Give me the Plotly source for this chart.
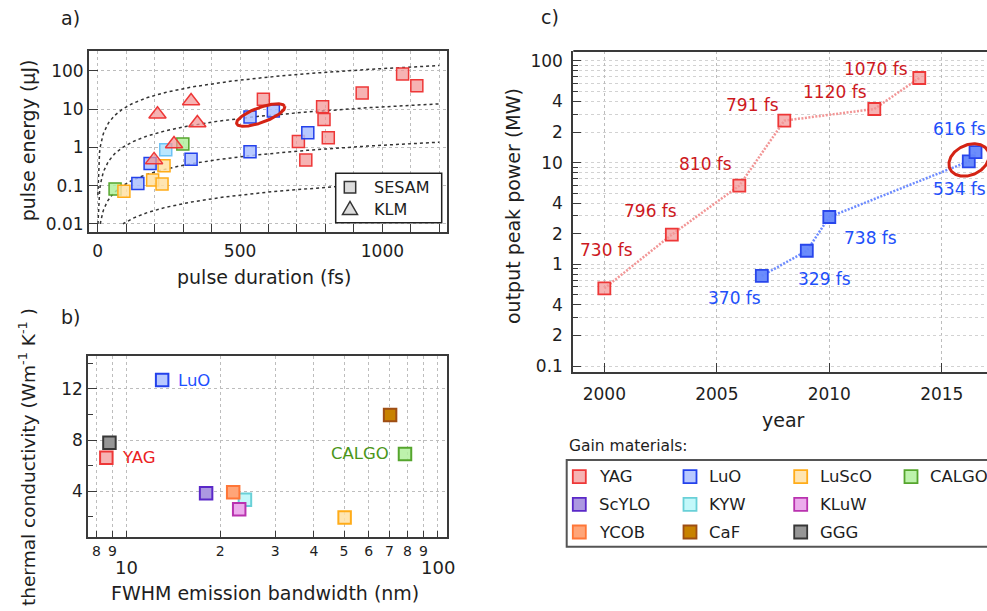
import numpy as np
import plotly.graph_objects as go

W, H = 987, 611
FONT = "DejaVu Sans"
INK = "#1e1e1e"
FRAME = "#3a3a3a"
GRID = "#bdbdbd"
GRID_LIGHT = "#d2d2d2"

# ---------------- a) pulse energy vs. pulse duration ----------------
yag_sesam_fs = [582, 790, 795, 810, 705, 731, 929, 1071, 1121]
yag_sesam_uj = [17.9, 11.5, 5.3, 1.79, 1.41, 0.47, 26, 82, 40.6]
luo_sesam_fs = [535, 617, 535, 738, 328, 184, 141]
luo_sesam_uj = [6.2, 8.9, 0.77, 2.4, 0.49, 0.38, 0.113]
kyw_sesam_fs = [239]
kyw_sesam_uj = [0.87]
calgo_sesam_fs = [299, 61]
calgo_sesam_uj = [1.22, 0.082]
luscO_sesam_fs = [92, 193, 226, 233]
luscO_sesam_uj = [0.071, 0.14, 0.11, 0.33]
yag_klm_fs = [210, 328, 350, 268, 198]
yag_klm_uj = [7.3, 16.2, 4.3, 1.22, 0.47]
iso_peak_power_mw = [100, 10, 1, 0.1]   # dashed guides, sech^2 pulses
a_xticks = list(range(0, 1201, 100))
a_xlabels = ["0" if v == 0 else ("500" if v == 500 else ("1000" if v == 1000 else "")) for v in a_xticks]
a_yticks = [0.01, 0.1, 1, 10, 100]
a_ylabels = ["0.01", "0.1", "1", "10", "100"]

# ---------------- b) thermal conductivity vs. emission bandwidth ----------------
materials = ["YAG", "LuO", "LuScO", "CALGO", "ScYLO", "KYW", "KLuW", "YCOB", "CaF", "GGG"]
bandwidth_nm = [8.6, 13.0, 50.2, 78.5, 18.0, 24.0, 23.0, 22.0, 70.3, 8.8]
conductivity = [6.63, 12.70, 1.95, 6.92, 3.85, 3.33, 2.60, 3.93, 9.97, 7.80]
b_labelled = ["YAG", "LuO", "CALGO"]
b_xticks = [8, 9, 10, 20, 30, 40, 50, 60, 70, 80, 90, 100]
b_xlabels = ["8", "9", " ", "2", "3", "4", "5", "6", "7", "8", "9", " "]
b_xdecades = [10, 100]
b_yticks = [4, 8, 12]
b_yminor = [2, 6, 10, 14]

# ---------------- c) output peak power vs. year ----------------
yag_year = [2000, 2003, 2006, 2008, 2012, 2014]
yag_peak_mw = [0.58, 1.96, 5.94, 25.9, 33.7, 68]
yag_duration = ["730 fs", "796 fs", "810 fs", "791 fs", "1120 fs", "1070 fs"]
luo_year = [2007, 2009, 2010, 2016.2, 2016.5]
luo_peak_mw = [0.77, 1.36, 2.92, 10.3, 12.7]
luo_duration = ["370 fs", "329 fs", "738 fs", "534 fs", "616 fs"]
c_xticks = [2000, 2005, 2010, 2015]
c_yticks = [0.1, 0.2, 0.4, 1, 2, 4, 10, 20, 40, 100]
c_ylabels = ["0.1", "2", "4", "1", "2", "4", "10", "2", "4", "100"]
c_yminor = [k * 10.0 ** e for e in (-1, 0, 1) for k in range(1, 10)] + [100]

# label offsets (px, x right / y up) for the duration labels
yag_label_shift = [(2, 38), (-21, 24), (-34, 22), (-32, 16), (-39, 17), (-43, 9)]
luo_label_shift = [(-27, -22), (18, -28), (41, -21), (-9, -28), (-16, 23)]

STYLE = {
    "YAG": ("rgba(242,150,150,0.72)", "rgb(238,55,55)"),
    "LuO": ("rgba(172,192,255,0.85)", "rgb(35,65,235)"),
    "LuScO": ("rgba(255,224,165,0.85)", "rgb(255,172,25)"),
    "CALGO": ("rgba(178,240,158,0.85)", "rgb(85,165,45)"),
    "ScYLO": ("rgb(172,152,225)", "rgb(90,40,200)"),
    "KYW": ("rgb(195,248,250)", "rgb(105,208,215)"),
    "KLuW": ("rgb(236,172,236)", "rgb(185,50,175)"),
    "YCOB": ("rgb(255,165,120)", "rgb(255,118,55)"),
    "CaF": ("rgb(200,130,0)", "rgb(158,78,20)"),
    "GGG": ("rgb(150,150,150)", "rgb(55,55,55)"),
}
LABEL_COLOR = {"YAG": "rgb(235,30,35)", "LuO": "rgb(30,80,255)", "CALGO": "rgb(75,150,25)"}
C_RED_TEXT = "rgb(205,25,30)"
C_BLUE_TEXT = "rgb(30,80,250)"

# plot-area boxes in pixels (left, right), (top, bottom)
A_X, A_Y = (89, 447), (51, 232)
B_X, B_Y = (88.3, 446.7), (356, 536.7)
C_X, C_Y = (573.3, 987), (51, 372.3)
A_XR, A_YR = (-30.6, 1227), (-2.21, 2.514)
B_XR, B_YR = (0.8765, 2.029), (0.45, 14.58)
C_XR, C_YR = (1998.62, 2017.01), (-1.062, 2.098)


def px(x):
    return x / W


def py(y):
    return 1 - y / H


def dom_x(b):
    return [px(b[0]), min(px(b[1]), 1.0)]


def dom_y(b):
    return [py(b[1]), py(b[0])]


fig = go.Figure()


def squares(x, y, mat, xa, ya, size=11, lw=1.5, fill=None, edge=None):
    f, e = STYLE[mat]
    fig.add_trace(go.Scatter(
        x=x, y=y, mode="markers", xaxis=xa, yaxis=ya, showlegend=False,
        marker=dict(symbol="square", size=size, color=fill or f,
                    line=dict(color=edge or e, width=lw)),
        hoverinfo="x+y", name=mat))


def ellipse(cx, cy_log, a_px, b_px, ang_deg, ux, uy):
    t = np.linspace(0, 2 * np.pi, 160)
    ang = np.radians(ang_deg)
    dx = a_px * np.cos(t) * np.cos(ang) - b_px * np.sin(t) * np.sin(ang)
    dy = a_px * np.cos(t) * np.sin(ang) + b_px * np.sin(t) * np.cos(ang)
    return cx + dx * ux, 10 ** (cy_log + dy * uy)


# ---- panel a ----
for p in iso_peak_power_mw:
    tau_min = 0.01 * 0.88 / (p * 1e-3)
    tau = np.linspace(max(tau_min, 0.5), 1200, 400)
    fig.add_trace(go.Scatter(
        x=tau, y=p * tau * 1e-3 / 0.88, mode="lines", xaxis="x", yaxis="y",
        showlegend=False, hoverinfo="skip",
        line=dict(color="#333333", width=1.5, dash="3px,3px")))

squares(yag_sesam_fs, yag_sesam_uj, "YAG", "x", "y", size=12)
squares(luo_sesam_fs, luo_sesam_uj, "LuO", "x", "y", size=12)
squares(kyw_sesam_fs, kyw_sesam_uj, "KYW", "x", "y", size=12,
        fill="rgba(180,228,255,0.9)", edge="rgb(110,195,245)")
squares(calgo_sesam_fs, calgo_sesam_uj, "CALGO", "x", "y", size=12)
squares(luscO_sesam_fs, luscO_sesam_uj, "LuScO", "x", "y", size=12)
fig.add_trace(go.Scatter(
    x=yag_klm_fs, y=yag_klm_uj, mode="markers", xaxis="x", yaxis="y", showlegend=False,
    marker=dict(symbol="triangle-up", size=15, color=STYLE["YAG"][0],
                line=dict(color=STYLE["YAG"][1], width=1.5)), name="YAG KLM"))

a_ux = (A_XR[1] - A_XR[0]) / (A_X[1] - A_X[0])
a_uy = (A_YR[1] - A_YR[0]) / (A_Y[1] - A_Y[0])
ex, ey = ellipse(572.5, 0.843, 25.5, 7.5, 20, a_ux, a_uy)
fig.add_trace(go.Scatter(x=ex, y=ey, mode="lines", xaxis="x", yaxis="y", showlegend=False,
                         hoverinfo="skip", line=dict(color="rgb(212,35,20)", width=3)))

# ---- panel b ----
for m, bw, k in zip(materials, bandwidth_nm, conductivity):
    squares([bw], [k], m, "x2", "y2", size=12.5, lw=2)

# ---- panel c ----
fig.add_trace(go.Scatter(x=yag_year, y=yag_peak_mw, mode="lines", xaxis="x3", yaxis="y3",
                         showlegend=False, hoverinfo="skip",
                         line=dict(color="rgb(242,150,150)", width=2.5, dash="2px,1.5px")))
fig.add_trace(go.Scatter(x=luo_year, y=luo_peak_mw, mode="lines", xaxis="x3", yaxis="y3",
                         showlegend=False, hoverinfo="skip",
                         line=dict(color="rgb(110,140,255)", width=2.5, dash="2px,1.5px")))
squares(yag_year, yag_peak_mw, "YAG", "x3", "y3", size=12, lw=1.8)
squares(luo_year, luo_peak_mw, "LuO", "x3", "y3", size=12, lw=1.8,
        fill="rgba(100,135,252,0.95)", edge="rgb(40,70,235)")

c_ux = (C_XR[1] - C_XR[0]) / (C_X[1] - C_X[0])
c_uy = (C_YR[1] - C_YR[0]) / (C_Y[1] - C_Y[0])
ex, ey = ellipse(2016.21, 1.026, 21, 15, 25, c_ux, c_uy)
fig.add_trace(go.Scatter(x=ex, y=ey, mode="lines", xaxis="x3", yaxis="y3", showlegend=False,
                         hoverinfo="skip", line=dict(color="rgb(212,35,20)", width=3)))

# ---- annotations ----
ann = []


def text(x, y, s, size=17, color=INK, xanchor="center", yanchor="middle", angle=0,
         xref="paper", yref="paper", xshift=0, yshift=0):
    ann.append(dict(x=x, y=y, text=s, showarrow=False, xref=xref, yref=yref,
                    xanchor=xanchor, yanchor=yanchor, textangle=angle,
                    xshift=xshift, yshift=yshift,
                    font=dict(family=FONT, size=size, color=color)))


text(px(70), py(18), "a)", size=19)
text(px(70), py(317), "b)", size=19)
text(px(550), py(17), "c)", size=19)

text(px(264), py(276.7), "pulse duration (fs)", size=19)
text(px(28.3), py(140), "pulse energy (μJ)", size=19, angle=-90)
text(px(265), py(593.3), "FWHM emission bandwidth (nm)", size=19)
text(px(27), py(457), "thermal conductivity (Wm<sup>-1</sup> K<sup>-1</sup> )", size=18.5, angle=-90)
text(px(513), py(206), "output peak power (MW)", size=19, angle=-90)
text(px(783), py(420), "year", size=19)

for d in b_xdecades:
    text(np.log10(d), py(567), str(d), size=18, xref="x2")

for m, bw, k in zip(materials, bandwidth_nm, conductivity):
    if m in b_labelled:
        right = m == "CALGO"
        text(np.log10(bw), k, m, size=16.5, color=LABEL_COLOR[m], xref="x2", yref="y2",
             xanchor="right" if right else "left", xshift=-14 if right else 14)

for yr, pk, lab, (sx, sy) in zip(yag_year, yag_peak_mw, yag_duration, yag_label_shift):
    text(yr, np.log10(pk), lab, size=17, color=C_RED_TEXT, xref="x3", yref="y3", xshift=sx, yshift=sy)
for yr, pk, lab, (sx, sy) in zip(luo_year, luo_peak_mw, luo_duration, luo_label_shift):
    text(yr, np.log10(pk), lab, size=17, color=C_BLUE_TEXT, xref="x3", yref="y3", xshift=sx, yshift=sy)

# panel a key
shapes = []
shapes.append(dict(type="rect", xref="paper", yref="paper", x0=px(335.7), x1=px(441.7),
                   y0=py(222.7), y1=py(173.3), fillcolor="white",
                   line=dict(color="#222222", width=1.5), layer="above"))
shapes.append(dict(type="rect", xref="paper", yref="paper", x0=px(344.3), x1=px(355.7),
                   y0=py(193), y1=py(181.6), fillcolor="#dcdcdc",
                   line=dict(color="#333333", width=1.5), layer="above"))
shapes.append(dict(type="path", xref="paper", yref="paper",
                   path=f"M {px(342.5)} {py(214.5)} L {px(357.5)} {py(214.5)} L {px(350)} {py(201.5)} Z",
                   fillcolor="#dcdcdc", line=dict(color="#333333", width=1.5), layer="above"))
text(px(372.3), py(187.7), "SESAM", size=16, xanchor="left")
text(px(372.3), py(209.7), "KLM", size=16, xanchor="left")

# gain-material key
text(px(567), py(446), "Gain materials:", size=15.5, xanchor="left")
shapes.append(dict(type="rect", xref="paper", yref="paper", x0=px(566.7), x1=px(1000),
                   y0=py(546.7), y1=py(460), fillcolor="rgba(0,0,0,0)",
                   line=dict(color="#555555", width=2), layer="above"))
key_rows = [["YAG", "LuO", "LuScO", "CALGO"], ["ScYLO", "KYW", "KLuW"], ["YCOB", "CaF", "GGG"]]
key_col_x = [579.3, 690, 800.7, 911]
key_row_y = [476.7, 504.3, 532]
for r, row in enumerate(key_rows):
    for c, m in enumerate(row):
        cx, cy = key_col_x[c], key_row_y[r]
        f, e = STYLE[m]
        shapes.append(dict(type="rect", xref="paper", yref="paper",
                           x0=px(cx - 6.5), x1=px(cx + 6.5), y0=py(cy + 6.5), y1=py(cy - 6.5),
                           fillcolor=f, line=dict(color=e, width=1.8), layer="above"))
        text(px(cx + 17.4), py(cy), m, size=16.5, xanchor="left")

# top border of panel c (open on the right)
shapes.append(dict(type="line", xref="x3 domain", yref="y3 domain", x0=0, x1=1, y0=1, y1=1,
                   line=dict(color=FRAME, width=2)))

tickfont = dict(family=FONT, size=17, color=INK)
common = dict(showline=True, linecolor=FRAME, linewidth=2, ticks="inside", tickcolor=FRAME,
              tickwidth=1.3, showgrid=True, gridcolor=GRID, griddash="dot", gridwidth=1,
              zeroline=False, tickfont=tickfont, tickmode="array", automargin=False)

fig.update_layout(
    width=W, height=H, template="none",
    margin=dict(l=0, r=0, t=0, b=0, autoexpand=False),
    paper_bgcolor="white", plot_bgcolor="white",
    font=dict(family=FONT, color=INK),
    showlegend=False,
    xaxis=dict(domain=dom_x(A_X), anchor="y", range=list(A_XR), tickvals=a_xticks,
               ticktext=a_xlabels, ticklen=8, mirror=True, ticklabelstandoff=3, **common),
    yaxis=dict(domain=dom_y(A_Y), anchor="x", type="log", range=list(A_YR), tickvals=a_yticks,
               ticktext=a_ylabels, ticklen=9, mirror=True, **common),
    xaxis2=dict(domain=dom_x(B_X), anchor="y2", type="log", range=list(B_XR), tickvals=b_xticks,
                ticktext=b_xlabels, ticklen=6, mirror=True,
                **{**common, "tickfont": dict(family=FONT, size=14, color=INK)}),
    yaxis2=dict(domain=dom_y(B_Y), anchor="x2", range=list(B_YR), tickvals=b_yticks,
                ticktext=[str(v) for v in b_yticks], ticklen=9, mirror=True,
                minor=dict(tickmode="array", tickvals=b_yminor, ticks="inside", ticklen=5,
                           tickcolor=FRAME, showgrid=False),
                **common),
    xaxis3=dict(domain=dom_x(C_X), anchor="y3", range=list(C_XR), tickvals=c_xticks,
                ticktext=[str(v) for v in c_xticks], ticklen=9, mirror=False,
                ticklabelstandoff=5, **common),
    yaxis3=dict(domain=dom_y(C_Y), anchor="x3", type="log", range=list(C_YR), tickvals=c_yticks,
                ticktext=c_ylabels, ticklen=8, mirror=False, ticklabelstandoff=5,
                minor=dict(tickmode="array", tickvals=c_yminor, ticks="inside", ticklen=5,
                           tickcolor=FRAME, showgrid=True, gridcolor=GRID_LIGHT, griddash="dot"),
                **{**common, "gridcolor": GRID_LIGHT}),
    annotations=ann,
    shapes=shapes,
)

fig.write_html("out.html")
